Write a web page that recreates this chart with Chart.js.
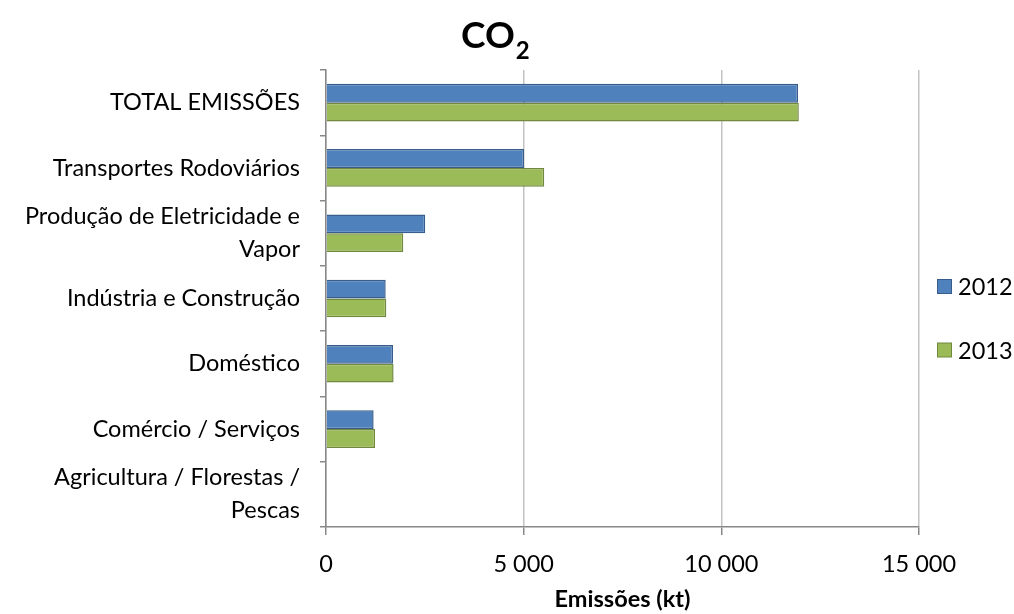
<!DOCTYPE html>
<html><head><meta charset="utf-8">
<script src="https://cdn.jsdelivr.net/npm/chart.js@4.4.0/dist/chart.umd.min.js"></script>
<style>html,body{margin:0;padding:0;background:#fff;}#wrap{width:1014px;height:614px;position:relative;}</style>
</head><body><div id="wrap"><canvas id="c" width="1014" height="614"></canvas></div>
<script>
const categories = ["TOTAL EMISSÕES", "Transportes Rodoviários", ["Produção de Eletricidade e", "Vapor"], "Indústria e Construção", "Doméstico", "Comércio / Serviços", ["Agricultura / Florestas /", "Pescas"]];
const series2012 = [11940, 5010, 2510, 1510, 1695, 1205, 15];
const series2013 = [11960, 5520, 1955, 1525, 1710, 1240, 20];
const seriesLabels = ["2012", "2013"];
const xTicks = [0, 5000, 10000, 15000];
const titleMain = "CO";
const titleSub = "2";
const axisTitle = "Emissões (kt)";

const FONT = "Lato, 'Open Sans', sans-serif";
const colors = [{fill:"#4F81BD", border:"#385D8A"}, {fill:"#9BBB59", border:"#71893F"}];

const titlePlugin = {
  id: 'coTitle',
  afterDraw(chart) {
    const ctx = chart.ctx;
    ctx.save();
    ctx.fillStyle = '#000';
    ctx.textBaseline = 'alphabetic';
    ctx.textAlign = 'left';
    ctx.font = "bold 37px " + FONT;
    const w1 = ctx.measureText(titleMain).width;
    const x0 = 461;
    ctx.fillText(titleMain, x0, 48);
    ctx.font = "bold 24px " + FONT;
    ctx.fillText(titleSub, x0 + w1 + 1, 59);
    ctx.restore();
  }
};

const legendPlugin = {
  id: 'sideLegend',
  afterDraw(chart) {
    const ctx = chart.ctx;
    ctx.save();
    const ys = [286.5, 350];
    chart.data.datasets.forEach((ds, i) => {
      const y = ys[i];
      ctx.fillStyle = ds.backgroundColor;
      ctx.strokeStyle = ds.borderColor;
      ctx.lineWidth = 1;
      ctx.fillRect(937.5, y - 7, 14, 14);
      ctx.strokeRect(937.5, y - 7, 14, 14);
      ctx.fillStyle = '#000';
      ctx.font = "23.5px " + FONT;
      ctx.textBaseline = 'middle';
      ctx.textAlign = 'left';
      ctx.fillText(ds.label, 958, y + 1);
    });
    ctx.restore();
  }
};

new Chart(document.getElementById('c'), {
  type: 'bar',
  data: {
    labels: categories,
    datasets: [
      {label: seriesLabels[0], data: series2012, backgroundColor: colors[0].fill, borderColor: colors[0].border, borderWidth: 1.5, categoryPercentage: 0.577, barPercentage: 1.0},
      {label: seriesLabels[1], data: series2013, backgroundColor: colors[1].fill, borderColor: colors[1].border, borderWidth: 1.5, categoryPercentage: 0.577, barPercentage: 1.0}
    ]
  },
  options: {
    indexAxis: 'y',
    responsive: false,
    animation: false,
    devicePixelRatio: 1,
    layout: {padding: {top: 70, right: 95, bottom: 0, left: 0}},
    plugins: {legend: {display: false}, title: {display: false}, tooltip: {enabled: false}},
    scales: {
      x: {
        min: 0, max: 15000,
        afterBuildTicks(scale) { scale.ticks = xTicks.map(v => ({value: v})); },
        afterFit(scale) { scale.height = 87; },
        ticks: {
          color: '#000', font: {family: FONT, size: 23.5}, padding: 15,
          callback: v => String(v).replace(/\B(?=(\d{3})+(?!\d))/g, ' ')
        },
        grid: {color: '#C3C3C3', tickColor: '#888888', lineWidth: 1.5, drawTicks: true, tickLength: 8},
        border: {color: '#888888', width: 1.5},
        title: {display: true, text: axisTitle, color: '#000', font: {family: FONT, size: 23.5, weight: 'bold'}, padding: {top: 0, bottom: 0}}
      },
      y: {
        afterFit(scale) { scale.width = 326; },
        ticks: {color: '#000', font: {family: FONT, size: 23.5, lineHeight: 1.4}, padding: 20, autoSkip: false},
        grid: {offset: true, drawOnChartArea: false, color: '#888888', lineWidth: 1.5, tickLength: 6},
        border: {color: '#888888', width: 1.5}
      }
    }
  },
  plugins: [titlePlugin, legendPlugin]
});
</script></body></html>
